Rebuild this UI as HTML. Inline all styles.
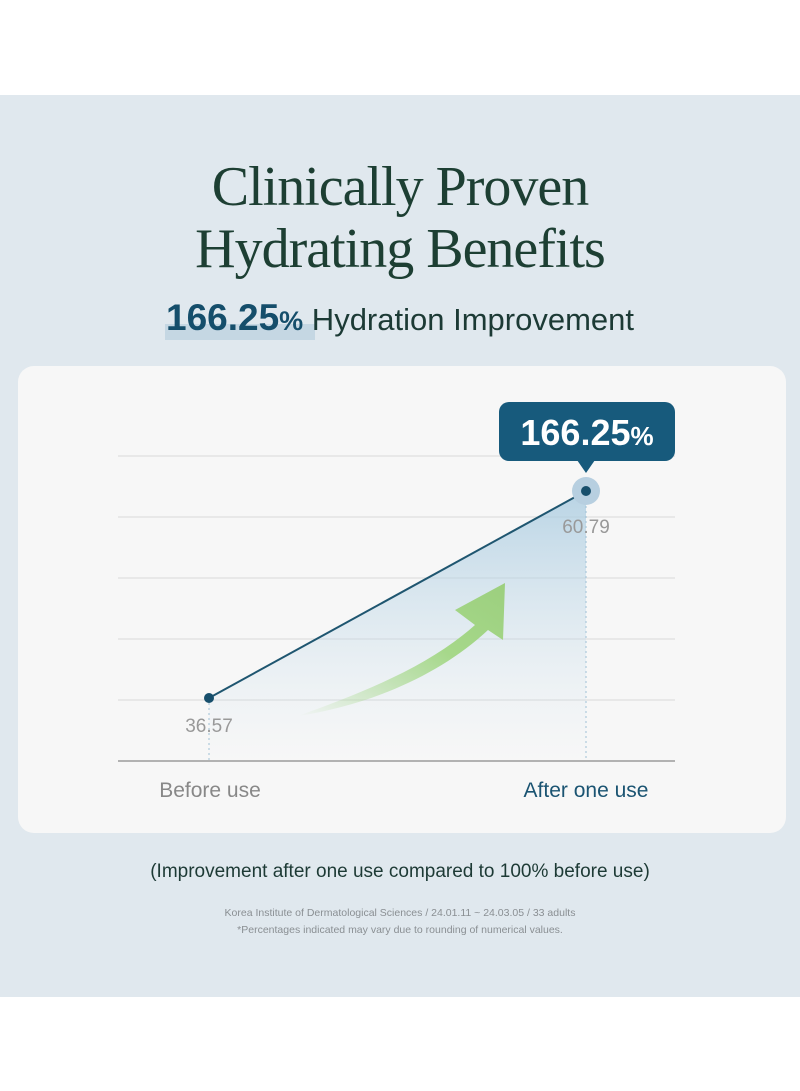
<!DOCTYPE html>
<html><head><meta charset="utf-8"><style>
body{margin:0;width:800px;height:1091px;background:#fff;position:relative;overflow:hidden;font-family:"Liberation Sans",sans-serif}
.panel{position:absolute;left:0;top:95px;width:800px;height:902px;background:#e0e8ee}
.t{position:absolute;left:0;width:800px;text-align:center;font-family:"Liberation Serif",serif;color:#1d3f33;font-size:56px;letter-spacing:-1px}
</style></head><body>
<div class="panel"></div>
<div class="t" style="top:155px">Clinically Proven</div>
<div class="t" style="top:217px">Hydrating Benefits</div>
<div style="position:absolute;left:165px;top:324px;width:150px;height:16px;background:#c5d7e3"></div>
<div style="position:absolute;left:0;top:297px;width:800px;text-align:center;font-size:31px;color:#1c3a35"><b style="color:#154e6b;font-size:37px">166.25<span style="font-size:27px">%</span></b> Hydration Improvement</div>
<div style="position:absolute;left:18px;top:366px;width:768px;height:467px;background:#f7f7f7;border-radius:16px"></div>
<svg style="position:absolute;left:0;top:0" width="800" height="1091">
<defs>
<linearGradient id="g" x1="0" y1="0" x2="0" y2="1"><stop offset="0" stop-color="#a9cbe0" stop-opacity=".8"/><stop offset="1" stop-color="#d6e6f0" stop-opacity="0"/></linearGradient>
<linearGradient id="a" x1="0" y1="1" x2="1" y2="0"><stop offset="0" stop-color="#a6d88a" stop-opacity="0"/><stop offset=".6" stop-color="#a6d88a"/><stop offset="1" stop-color="#9ccf7e"/></linearGradient>
</defs>
<g stroke="#dedede" stroke-width="1.3">
<line x1="118" y1="456" x2="675" y2="456"/><line x1="118" y1="517" x2="675" y2="517"/><line x1="118" y1="578" x2="675" y2="578"/><line x1="118" y1="639" x2="675" y2="639"/><line x1="118" y1="700" x2="675" y2="700"/></g>
<line x1="118" y1="761" x2="675" y2="761" stroke="#888" stroke-width="1.3"/>
<polygon points="209,698 586,491 586,761 209,761" fill="url(#g)"/>
<path d="M298,716 C370,690 430,665 475,625 L455,610 L505,583 L503,640 L488,630 C440,675 370,705 298,716 Z" fill="url(#a)"/>
<line x1="209" y1="698" x2="209" y2="761" stroke="#9fc0d6" stroke-dasharray="2,3"/>
<line x1="586" y1="491" x2="586" y2="761" stroke="#9fc0d6" stroke-dasharray="2,3"/>
<line x1="209" y1="698" x2="586" y2="491" stroke="#1f5670" stroke-width="2"/>
<circle cx="586" cy="491" r="14" fill="#b7cfe0"/>
<circle cx="586" cy="491" r="5" fill="#174f6c"/>
<circle cx="209" cy="698" r="5" fill="#174f6c"/>
<rect x="499" y="402" width="176" height="59" rx="10" fill="#175a7c"/>
<polygon points="577,460 595,460 586,473" fill="#175a7c"/>
<text x="587" y="445" text-anchor="middle" font-size="36" font-weight="bold" fill="#fff" font-family="Liberation Sans">166.25<tspan font-size="26">%</tspan></text>
<text x="586" y="533" text-anchor="middle" font-size="19" fill="#999">60.79</text>
<text x="209" y="732" text-anchor="middle" font-size="19" fill="#999">36.57</text>
<text x="210" y="797" text-anchor="middle" font-size="21" fill="#888">Before use</text>
<text x="586" y="797" text-anchor="middle" font-size="21" fill="#1b5472">After one use</text>
</svg>
<div style="position:absolute;left:0;top:861px;width:800px;text-align:center;font-size:19px;color:#1d3a35">(Improvement after one use compared to 100% before use)</div>
<div style="position:absolute;left:0;top:905px;width:800px;text-align:center;font-size:10.5px;line-height:17px;color:#8a8f93">Korea Institute of Dermatological Sciences / 24.01.11 ~ 24.03.05 / 33 adults<br>*Percentages indicated may vary due to rounding of numerical values.</div>
</body></html>
